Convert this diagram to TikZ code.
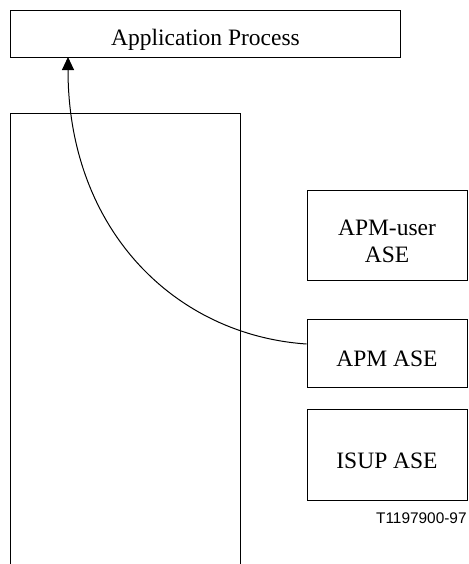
\documentclass[tikz,border=0pt]{standalone}
\usepackage{fontspec}
\setmainfont{Liberation Serif}
\newfontfamily\tagfont{Liberation Sans}
\usetikzlibrary{arrows.meta}
\begin{document}
\begin{tikzpicture}[x=0.5pt,y=-0.5pt,
  box/.style={draw=black,line width=0.5pt,inner sep=0pt,minimum width=80pt},
  lbl/.style={inner sep=0pt,align=center,font=\fontsize{11.75pt}{13.5pt}\selectfont},
  link/.style={line width=0.5pt,-{Triangle[length=6.5pt,width=6pt]}}]
\useasboundingbox (0,0) rectangle (468,564);
% Application Process
\node[box,minimum width=194.5pt,minimum height=23.5pt] (ap) at (205.5,33.5) {};
\node[lbl] (aptext) at ([yshift=-3pt]ap.center) {Application Process};
% tall open box
\coordinate (tbl) at (11,564);
\coordinate (ttl) at (11,113);
\coordinate (ttr) at (240,113);
\coordinate (tbr) at (240,564);
\draw[line width=0.5pt] (tbl) -- (ttl) -- (ttr) -- (tbr);
% ASE boxes
\node[box,minimum height=45pt] (apmuser) at (387,235) {};
\node[lbl] (apmusertext) at ([yshift=-3.25pt]apmuser.center) {APM-user\\ASE};
\node[box,minimum height=34pt] (apm) at (387,353) {};
\node[lbl] (apmtext) at ([yshift=-3pt]apm.center) {APM ASE};
\node[box,minimum height=45.5pt] (isup) at (387,454.5) {};
\node[lbl] (isuptext) at ([yshift=-3pt]isup.center) {ISUP ASE};
% tag
\node[anchor=east,inner sep=0pt,font=\tagfont\fontsize{7.7pt}{9pt}\selectfont] (tag) at (467,518) {T1197900-97};
% connector
\coordinate (start) at ([yshift=4.5pt]apm.west);
\coordinate (tip) at (68,57);
\draw[link] (start) .. controls (175,335) and (68,230) .. (tip);
\end{tikzpicture}
\end{document}
